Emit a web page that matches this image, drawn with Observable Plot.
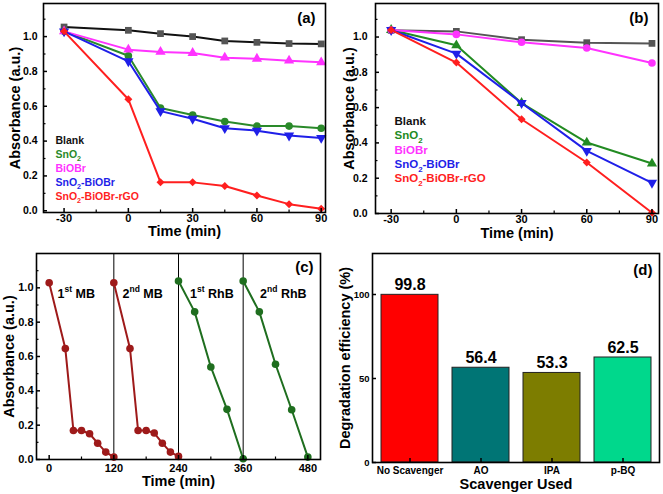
<!DOCTYPE html>
<html><head><meta charset="utf-8">
<script src="https://cdn.jsdelivr.net/npm/d3@7"></script>
<script src="https://cdn.jsdelivr.net/npm/@observablehq/plot@0.6"></script>
<style>
body{margin:0;background:#fff;}
#fig{position:relative;width:663px;height:494px;overflow:hidden;}
.panel{position:absolute;}
.panel svg{overflow:visible;}
</style></head><body><div id="fig"></div>
<script>
// ---------- DATA ----------
const seriesNames = ["Blank", "SnO_{2}", "BiOBr", "SnO_{2}-BiOBr", "SnO_{2}-BiOBr-rGO"];

// panel (a): MB degradation
const timeA = [-30, 0, 15, 30, 45, 60, 75, 90];
const blankA = [1.055, 1.036, 1.017, 1.0, 0.975, 0.967, 0.96, 0.958];
const sno2A = [1.03, 0.89, 0.59, 0.55, 0.512, 0.486, 0.486, 0.474];
const biobrA = [1.03, 0.925, 0.912, 0.906, 0.879, 0.873, 0.862, 0.852];
const sno2BiobrA = [1.03, 0.858, 0.572, 0.528, 0.474, 0.46, 0.432, 0.418];
const rgoA = [1.03, 0.64, 0.163, 0.163, 0.142, 0.088, 0.038, 0.012];

// panel (b): RhB degradation
const timeB = [-30, 0, 30, 60, 90];
const blankB = [1.038, 1.032, 0.985, 0.968, 0.964];
const sno2B = [1.04, 0.953, 0.626, 0.402, 0.283];
const biobrB = [1.04, 1.015, 0.97, 0.938, 0.853];
const sno2BiobrB = [1.04, 0.906, 0.626, 0.355, 0.174];
const rgoB = [1.04, 0.855, 0.534, 0.289, 0.004];

// panel (c): recycling
const mbTime1 = [0, 30, 45, 60, 75, 90, 105, 120];
const mbAbs1 = [1.03, 0.646, 0.169, 0.169, 0.15, 0.095, 0.043, 0.014];
const mbTime2 = [120, 150, 165, 180, 195, 210, 225, 240];
const mbAbs2 = [1.03, 0.646, 0.169, 0.169, 0.154, 0.095, 0.043, 0.018];
const rhbTime1 = [240, 270, 300, 330, 360];
const rhbAbs1 = [1.04, 0.86, 0.539, 0.292, 0.004];
const rhbTime2 = [360, 390, 420, 450, 480];
const rhbAbs2 = [1.04, 0.86, 0.555, 0.29, 0.014];
const cycleDividers = [120, 240, 360];
const cycleLabels = ["1^{st} MB", "2^{nd} MB", "1^{st} RhB", "2^{nd} RhB"];

// panel (d): scavengers
const scavengers = ["No Scavenger", "AO", "IPA", "p-BQ"];
const efficiency = [99.8, 56.4, 53.3, 62.5];

// tick values
const xTicksAB = [-30, 0, 30, 60, 90];
const xMinorAB = [-15, 15, 45, 75];
const yTicksAbs = [0, 0.2, 0.4, 0.6, 0.8, 1.0];
const yMinorAbs = [0.1, 0.3, 0.5, 0.7, 0.9, 1.1];
const xTicksC = [0, 120, 240, 360, 480];
const xMinorC = [60, 180, 300, 420];
const yTicksD = [0, 50, 100];

// ---------- STYLE ----------
const FONT = "'Liberation Sans', Arial, sans-serif";
const bold = {fontFamily: FONT, fontWeight: "bold"};
const triDown = {draw(ctx, size) {
  const a = Math.sqrt(size * 4 / Math.sqrt(3)), h = a * Math.sqrt(3) / 2;
  ctx.moveTo(0, 2 * h / 3); ctx.lineTo(-a / 2, -h / 3); ctx.lineTo(a / 2, -h / 3); ctx.closePath();
}};

function axes(o) {
  const iw = o.width - o.ml - o.mr, ih = o.height - o.mt - o.mb;
  const m = [];
  const tk = (vals, len, w, dir) => dir === "x"
    ? Plot.ruleX(vals, {x: d => d, insetTop: ih - len, stroke: "#000", strokeWidth: w})
    : Plot.ruleY(vals, {y: d => d, insetRight: iw - len, stroke: "#000", strokeWidth: w});
  m.push(tk(o.xTicks, 4, 1.5, "x"));
  if (o.xMinor) m.push(tk(o.xMinor, 2.5, 1.2, "x"));
  m.push(tk(o.yTicks, 4, 1.5, "y"));
  if (o.yMinor) m.push(tk(o.yMinor, 2.5, 1.2, "y"));
  m.push(Plot.axisX({ticks: o.xTicks, tickSize: 0, tickPadding: o.xPad, fontSize: o.xFont, ...bold, tickFormat: o.xFormat, label: null}));
  m.push(Plot.axisY({ticks: o.yTicks, tickSize: 0, tickPadding: o.yPad, fontSize: o.yFont, ...bold, tickFormat: o.yFormat, label: null}));
  m.push(Plot.text([o.xLabel], {text: d => d, frameAnchor: "bottom", dy: o.xLabelDy, lineAnchor: "middle", fontSize: o.labelFont, ...bold}));
  m.push(Plot.text([o.yLabel], {text: d => d, frameAnchor: "left", dx: -o.yLabelDx, rotate: -90, lineAnchor: "middle", textAnchor: "middle", fontSize: o.labelFont, ...bold}));
  m.push(Plot.text([o.tag], {text: d => d, frameAnchor: "top-right", textAnchor: "end", lineAnchor: "middle", dx: o.tagDx, dy: o.tagDy, fontSize: 15, ...bold}));
  m.push(Plot.frame({stroke: "#000", strokeWidth: 1.6}));
  return m;
}

function seriesMarks(time, s) {
  const rows = time.map((t, j) => ({t, v: s.values[j]}));
  return [
    Plot.line(rows, {x: "t", y: "v", stroke: s.line, strokeWidth: 2}),
    Plot.dot(rows, {x: "t", y: "v", symbol: s.symbol, fill: s.marker, stroke: "none", r: s.r || 3.8})
  ];
}

function legendMarks(series, dx, dy0, step, fs) {
  return series.map((s, i) => Plot.text([seriesNames[i]], {text: d => d, frameAnchor: "top-left", textAnchor: "start", lineAnchor: "middle", dx, dy: dy0 + i * step, fill: s.marker === "#555" ? "#111" : s.line, fontSize: fs, ...bold}));
}

function richText(svg) {
  const ns = "http://www.w3.org/2000/svg";
  svg.querySelectorAll("text").forEach(t => {
    const s = t.textContent;
    if (!/[_^]\{/.test(s)) return;
    const parts = s.split(/([_^]\{[^}]*\})/).filter(p => p);
    while (t.firstChild) t.removeChild(t.firstChild);
    let shift = 0;
    for (const p of parts) {
      let target = 0, txt = p, small = false;
      if (p[0] === "_") { target = 0.3; txt = p.slice(2, -1); small = true; }
      else if (p[0] === "^") { target = -0.45; txt = p.slice(2, -1); small = true; }
      const ts = document.createElementNS(ns, "tspan");
      if (small) ts.setAttribute("font-size", "68%");
      const d = (target - shift) / (small ? 0.68 : 1);
      if (d) ts.setAttribute("dy", d.toFixed(3) + "em");
      shift = target;
      ts.textContent = txt;
      t.appendChild(ts);
    }
  });
}

const fig = document.getElementById("fig");
function place(svg, left, top) {
  const div = document.createElement("div");
  div.className = "panel"; div.style.left = left + "px"; div.style.top = top + "px";
  div.appendChild(svg); fig.appendChild(div); richText(svg);
}

// ---------- PANEL (a) ----------
{
  const o = {width: 330, height: 250, ml: 43, mr: 5, mt: 3, mb: 38,
    xTicks: xTicksAB, xMinor: xMinorAB, yTicks: yTicksAbs, yMinor: yMinorAbs,
    xPad: 1.5, yPad: 6, xFont: 11, yFont: 10.5, xFormat: d => String(d), yFormat: d3.format(".1f"),
    xLabel: "Time (min)", yLabel: "Absorbance (a.u.)", xLabelDy: 19, yLabelDx: 28, labelFont: 14.5,
    tag: "(a)", tagDx: -10, tagDy: 15};
  const series = [
    {values: blankA, line: "#111", marker: "#555", symbol: "square"},
    {values: sno2A, line: "#2a8a2a", marker: "#2a8a2a", symbol: "circle"},
    {values: biobrA, line: "#ff33ff", marker: "#ff33ff", symbol: "triangle"},
    {values: sno2BiobrA, line: "#1f1fe8", marker: "#1f1fe8", symbol: triDown},
    {values: rgoA, line: "#ff1f1f", marker: "#ff1f1f", symbol: "diamond2", r: 3.6}
  ];
  const svg = Plot.plot({
    width: o.width, height: o.height, marginLeft: o.ml, marginRight: o.mr, marginTop: o.mt, marginBottom: o.mb,
    style: {fontFamily: FONT, background: "transparent"},
    x: {domain: [-39.6, 92]}, y: {domain: [-0.01, 1.19]},
    marks: [
      ...series.flatMap(s => seriesMarks(timeA, s)),
      ...legendMarks(series, 12, 137, 14, 10.5),
      ...axes(o)
    ]
  });
  place(svg, 0, 0);
}

// ---------- PANEL (b) ----------
{
  const o = {width: 333, height: 250, ml: 45, mr: 5, mt: 3, mb: 37,
    xTicks: xTicksAB, xMinor: xMinorAB, yTicks: yTicksAbs, yMinor: yMinorAbs,
    xPad: 2, yPad: 8, xFont: 11, yFont: 10.5, xFormat: d => String(d), yFormat: d3.format(".1f"),
    xLabel: "Time (min)", yLabel: "Absorbance (a.u.)", xLabelDy: 20, yLabelDx: 26, labelFont: 14.5,
    tag: "(b)", tagDx: -10, tagDy: 15};
  const series = [
    {values: blankB, line: "#555", marker: "#555", symbol: "square"},
    {values: sno2B, line: "#228b22", marker: "#228b22", symbol: "triangle"},
    {values: biobrB, line: "#ff33ff", marker: "#ff33ff", symbol: "circle"},
    {values: sno2BiobrB, line: "#1f1fe8", marker: "#1f1fe8", symbol: triDown},
    {values: rgoB, line: "#ff1f1f", marker: "#ff1f1f", symbol: "diamond2", r: 3.6}
  ];
  const svg = Plot.plot({
    width: o.width, height: o.height, marginLeft: o.ml, marginRight: o.mr, marginTop: o.mt, marginBottom: o.mb,
    style: {fontFamily: FONT, background: "transparent"},
    x: {domain: [-37.2, 93]}, y: {domain: [0, 1.19]},
    marks: [
      ...series.flatMap(s => seriesMarks(timeB, s)),
      ...legendMarks(series, 19, 118, 14.3, 11.5),
      ...axes(o)
    ]
  });
  place(svg, 330, 0);
}

// ---------- PANEL (c) ----------
{
  const o = {width: 330, height: 244, ml: 36, mr: 10, mt: 3, mb: 35,
    xTicks: xTicksC, xMinor: xMinorC, yTicks: yTicksAbs, yMinor: yMinorAbs,
    xPad: 4.5, yPad: 3, xFont: 11, yFont: 11, xFormat: d => String(d), yFormat: d3.format(".1f"),
    xLabel: "Time (min)", yLabel: "Absorbance (a.u.)", xLabelDy: 22, yLabelDx: 27, labelFont: 14.5,
    tag: "(c)", tagDx: -7, tagDy: 14};
  const cycles = [
    {time: mbTime1, values: mbAbs1, line: "#9e1a1a", marker: "#9e1a1a", symbol: "circle"},
    {time: mbTime2, values: mbAbs2, line: "#9e1a1a", marker: "#9e1a1a", symbol: "circle"},
    {time: rhbTime1, values: rhbAbs1, line: "#1f6e1f", marker: "#1f6e1f", symbol: "circle"},
    {time: rhbTime2, values: rhbAbs2, line: "#1f6e1f", marker: "#1f6e1f", symbol: "circle"}
  ];
  const labelDx = [21, 86, 153.6, 223.6];
  const svg = Plot.plot({
    width: o.width, height: o.height, marginLeft: o.ml, marginRight: o.mr, marginTop: o.mt, marginBottom: o.mb,
    style: {fontFamily: FONT, background: "transparent"},
    x: {domain: [-23.5, 503.5]}, y: {domain: [0, 1.2]},
    marks: [
      Plot.ruleX(cycleDividers, {x: d => d, stroke: "#000", strokeWidth: 1}),
      ...cycles.flatMap(c => seriesMarks(c.time, c)),
      ...cycleLabels.map((l, i) => Plot.text([l], {text: d => d, frameAnchor: "top-left", textAnchor: "start", lineAnchor: "middle", dx: labelDx[i], dy: 40, fontSize: 12.5, ...bold})),
      ...axes(o)
    ]
  });
  place(svg, 0, 250);
}

// ---------- PANEL (d) ----------
{
  const o = {width: 333, height: 244, ml: 42, mr: 4, mt: 3, mb: 32,
    xTicks: scavengers, yTicks: yTicksD,
    xPad: 4.5, yPad: 3, xFont: 10, yFont: 9.5, xFormat: d => d, yFormat: d => String(d),
    xLabel: "Scavenger Used", yLabel: "Degradation efficiency (%)", xLabelDy: 21.5, yLabelDx: 27, labelFont: 14.5,
    tag: "(d)", tagDx: -7, tagDy: 17};
  const rows = scavengers.map((c, i) => ({c, v: efficiency[i]}));
  const svg = Plot.plot({
    width: o.width, height: o.height, marginLeft: o.ml, marginRight: o.mr, marginTop: o.mt, marginBottom: o.mb,
    style: {fontFamily: FONT, background: "transparent"},
    x: {type: "band", domain: scavengers, paddingInner: 0.2, paddingOuter: 0.1},
    y: {domain: [0, 124.4]},
    color: {domain: scavengers, range: ["#ff0000", "#007575", "#7d7d00", "#00d88c"]},
    marks: [
      Plot.barY(rows, {x: "c", y: "v", fill: "c", stroke: "#222", strokeWidth: 1}),
      Plot.text(rows, {x: "c", y: "v", text: d => d.v.toFixed(1), dy: -10, lineAnchor: "middle", fontSize: 16, ...bold}),
      ...axes(o)
    ]
  });
  place(svg, 330, 250);
}
</script></body></html>
